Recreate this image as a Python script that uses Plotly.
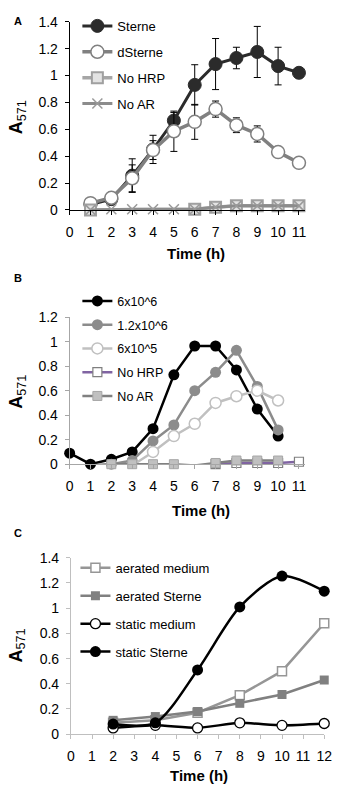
import plotly.graph_objects as go

W, H = 347, 801
FONT = "Liberation Sans, Arial, sans-serif"

# ---------------- Panel A data ----------------
hours_a = [1, 2, 3, 4, 5, 6, 7, 8, 9, 10, 11]
sterne = [0.04, 0.08, 0.255, 0.45, 0.665, 0.93, 1.085, 1.13, 1.175, 1.07, 1.02]
sterne_err = [0, 0.01, 0.125, 0.105, 0.06, 0.15, 0.19, 0.08, 0.19, 0.14, 0]
dsterne = [0.05, 0.09, 0.235, 0.445, 0.585, 0.655, 0.75, 0.63, 0.565, 0.43, 0.35]
dsterne_err = [0, 0.01, 0.1, 0.07, 0.15, 0.13, 0.06, 0.055, 0.06, 0, 0]
hours_a_nohrp = [1, 6, 7, 8, 9, 10, 11]
a_nohrp = [0.0, 0.005, 0.02, 0.03, 0.03, 0.03, 0.03]
a_noar = [0.0, 0.005, 0.005, 0.005, 0.005, 0.005, 0.02, 0.03, 0.03, 0.03, 0.03]

# ---------------- Panel B data ----------------
hours_b0 = [0, 1, 2, 3, 4, 5, 6, 7, 8, 9, 10]
hours_b1 = [1, 2, 3, 4, 5, 6, 7, 8, 9, 10]
hours_b2 = [1, 2, 3, 4, 5, 6, 7, 8, 9, 10, 11]
b_6e6 = [0.09, 0.0, 0.04, 0.1, 0.29, 0.73, 0.965, 0.965, 0.77, 0.45, 0.23]
b_12e6 = [-0.01, 0.0, 0.03, 0.19, 0.32, 0.6, 0.75, 0.93, 0.635, 0.28]
b_6e5 = [-0.01, -0.01, -0.01, 0.1, 0.23, 0.33, 0.5, 0.555, 0.6, 0.52]
b_nohrp = [-0.02, -0.02, -0.02, -0.02, -0.02, -0.02, 0.0, 0.01, 0.01, 0.01, 0.02]
b_noar = [-0.01, 0.0, 0.0, 0.0, 0.0, -0.01, 0.01, 0.03, 0.03, 0.03]

# ---------------- Panel C data ----------------
hours_c = [2, 4, 6, 8, 10, 12]
aer_med = [0.09, 0.11, 0.17, 0.31, 0.5, 0.88]
aer_ster = [0.11, 0.14, 0.18, 0.245, 0.315, 0.43]
stat_med = [0.05, 0.07, 0.05, 0.09, 0.07, 0.085]
stat_ster = [0.08, 0.09, 0.51, 1.01, 1.255, 1.135]


def px(x):
    return x / W


def py(y):
    return 1 - y / H


fig = go.Figure()

# ---- Panel A traces ----
fig.add_trace(go.Scatter(
    x=hours_a, y=sterne, name="Sterne", mode="lines+markers", xaxis="x", yaxis="y",
    line=dict(color="#2b2b2b", width=3),
    marker=dict(symbol="circle", size=13, color="#2b2b2b", line=dict(color="#2b2b2b", width=1)),
    error_y=dict(type="data", array=sterne_err, color="black", thickness=1, width=3.5),
    legend="legend", legendgroup="a1", cliponaxis=False))
fig.add_trace(go.Scatter(
    x=hours_a, y=dsterne, name="dSterne", mode="lines+markers", xaxis="x", yaxis="y",
    line=dict(color="#808080", width=3.5),
    marker=dict(symbol="circle", size=13, color="white", line=dict(color="#808080", width=1.5)),
    error_y=dict(type="data", array=dsterne_err, color="black", thickness=1, width=3.5),
    legend="legend", legendgroup="a2", cliponaxis=False))
fig.add_trace(go.Scatter(
    x=hours_a_nohrp, y=a_nohrp, name="No HRP", mode="lines+markers", xaxis="x", yaxis="y",
    line=dict(color="#a6a6a6", width=3.5),
    marker=dict(symbol="square", size=11, color="#e3e3e3", line=dict(color="#a0a0a0", width=2)),
    legend="legend", legendgroup="a3", cliponaxis=False))
fig.add_trace(go.Scatter(
    x=hours_a, y=a_noar, name="No AR", mode="lines+markers", xaxis="x", yaxis="y",
    line=dict(color="#8c8c8c", width=3),
    marker=dict(symbol="x-thin-open", size=10, color="#9a9a9a", line=dict(color="#9a9a9a", width=1.5)),
    legend="legend", legendgroup="a4", cliponaxis=False))

# ---- Panel B traces ----
fig.add_trace(go.Scatter(
    x=hours_b0, y=b_6e6, name="6x10^6", mode="lines+markers", xaxis="x2", yaxis="y2",
    line=dict(color="black", width=2.5),
    marker=dict(symbol="circle", size=11, color="black"),
    legend="legend2", legendgroup="b1", cliponaxis=False))
fig.add_trace(go.Scatter(
    x=hours_b1, y=b_12e6, name="1.2x10^6", mode="lines+markers", xaxis="x2", yaxis="y2",
    line=dict(color="#8c8c8c", width=2.5),
    marker=dict(symbol="circle", size=11, color="#8c8c8c"),
    legend="legend2", legendgroup="b2", cliponaxis=False))
fig.add_trace(go.Scatter(
    x=hours_b1, y=b_6e5, name="6x10^5", mode="lines+markers", xaxis="x2", yaxis="y2",
    line=dict(color="#c0c0c0", width=2.5),
    marker=dict(symbol="circle", size=11, color="white", line=dict(color="#c0c0c0", width=1.5)),
    legend="legend2", legendgroup="b3", cliponaxis=False))
fig.add_trace(go.Scatter(
    x=hours_b2, y=b_nohrp, name="No HRP", mode="lines+markers", xaxis="x2", yaxis="y2",
    line=dict(color="#8064a2", width=2.5),
    marker=dict(symbol="square", size=9, color="white", line=dict(color="#7f7f7f", width=1.2)),
    legend="legend2", legendgroup="b4", cliponaxis=False))
fig.add_trace(go.Scatter(
    x=hours_b1, y=b_noar, name="No AR", mode="lines+markers", xaxis="x2", yaxis="y2",
    line=dict(color="#808080", width=2.5),
    marker=dict(symbol="square", size=9, color="#c0c0c0", line=dict(color="#a6a6a6", width=1)),
    legend="legend2", legendgroup="b5", cliponaxis=False))

# ---- Panel C traces ----
fig.add_trace(go.Scatter(
    x=hours_c, y=aer_med, name="aerated medium", mode="lines+markers", xaxis="x3", yaxis="y3",
    line=dict(color="#969696", width=2.5),
    marker=dict(symbol="square", size=9, color="white", line=dict(color="#969696", width=1.5)),
    legend="legend3", legendgroup="c1", cliponaxis=False))
fig.add_trace(go.Scatter(
    x=hours_c, y=aer_ster, name="aerated Sterne", mode="lines+markers", xaxis="x3", yaxis="y3",
    line=dict(color="#808080", width=2.5),
    marker=dict(symbol="square", size=9, color="#808080"),
    legend="legend3", legendgroup="c2", cliponaxis=False))
fig.add_trace(go.Scatter(
    x=hours_c, y=stat_med, name="static medium", mode="lines+markers", xaxis="x3", yaxis="y3",
    line=dict(color="black", width=2.5, shape="spline", smoothing=0.6),
    marker=dict(symbol="circle", size=10, color="white", line=dict(color="black", width=1.3)),
    legend="legend3", legendgroup="c3", cliponaxis=False))
fig.add_trace(go.Scatter(
    x=hours_c, y=stat_ster, name="static Sterne", mode="lines+markers", xaxis="x3", yaxis="y3",
    line=dict(color="black", width=2.5, shape="spline", smoothing=0.8),
    marker=dict(symbol="circle", size=11, color="black"),
    legend="legend3", legendgroup="c4", cliponaxis=False))

tickfont = dict(family=FONT, size=14, color="black")


def xax(domain, rng, color):
    return dict(domain=domain, range=rng, dtick=1, tick0=0, showgrid=False, zeroline=False,
                showline=True, linecolor=color, linewidth=1, ticks="outside", ticklen=4,
                tickcolor=color, tickfont=tickfont, ticklabelstandoff=5, fixedrange=True)


def yax(domain, rng, color, anchor):
    return dict(domain=domain, range=rng, dtick=0.2, tick0=0, showgrid=False, zeroline=False,
                showline=True, linecolor=color, linewidth=1, ticks="outside", ticklen=4,
                tickcolor=color, tickfont=tickfont, ticklabelstandoff=4, anchor=anchor,
                fixedrange=True)


legend_common = dict(xanchor="left", yanchor="top", bgcolor="rgba(0,0,0,0)",
                     traceorder="grouped", itemclick=False, itemdoubleclick=False)

fig.update_layout(
    width=W, height=H, autosize=False,
    margin=dict(l=0, r=0, t=0, b=0),
    paper_bgcolor="white", plot_bgcolor="white",
    font=dict(family=FONT, color="black"),
    xaxis=xax([px(68), px(312)], [0, 11.3], "black") | dict(anchor="y"),
    yaxis=yax([py(206), py(14)], [0, 1.4], "black", "x"),
    xaxis2=xax([px(68), px(312)], [0, 11.3], "#a6a6a6") | dict(anchor="y2"),
    yaxis2=yax([py(465.5), py(315.5)], [0, 1.2], "#a6a6a6", "x2"),
    xaxis3=xax([px(69.3), px(331.7)], [0, 12], "#bfbfbf") | dict(anchor="y3"),
    yaxis3=yax([py(741), py(561)], [0, 1.4], "#bfbfbf", "x3"),
    legend=legend_common | dict(x=px(76), y=py(3), font=dict(family=FONT, size=13), tracegroupgap=6),
    legend2=legend_common | dict(x=px(76), y=py(284), font=dict(family=FONT, size=12.5), tracegroupgap=4.5),
    legend3=legend_common | dict(x=px(74), y=py(556), font=dict(family=FONT, size=13), tracegroupgap=8),
    showlegend=True,
)

annots = [
    dict(text="<b>A</b>", x=px(15), y=py(13), size=11),
    dict(text="<b>B</b>", x=px(15), y=py(276), size=11),
    dict(text="<b>C</b>", x=px(15), y=py(536), size=11),
    dict(text="<b>Time (h)</b>", x=px(199), y=py(250), size=15),
    dict(text="<b>Time (h)</b>", x=px(204), y=py(513), size=15),
    dict(text="<b>Time (h)</b>", x=px(202), y=py(783), size=15),
]
for a in annots:
    fig.add_annotation(text=a["text"], x=a["x"], y=a["y"], xref="paper", yref="paper",
                       showarrow=False, xanchor="center", yanchor="middle",
                       font=dict(family=FONT, size=a["size"], color="black"))

for yc in [112, 392, 651]:
    fig.add_annotation(text="<b>A</b><sub>571</sub>", x=px(14), y=py(yc), xref="paper", yref="paper",
                       showarrow=False, textangle=-90, xanchor="center", yanchor="middle",
                       font=dict(family=FONT, size=18, color="black"))

fig.write_html("out.html", config={"displayModeBar": False},
               post_script="document.body.style.margin='0';document.body.style.overflow='hidden';")
